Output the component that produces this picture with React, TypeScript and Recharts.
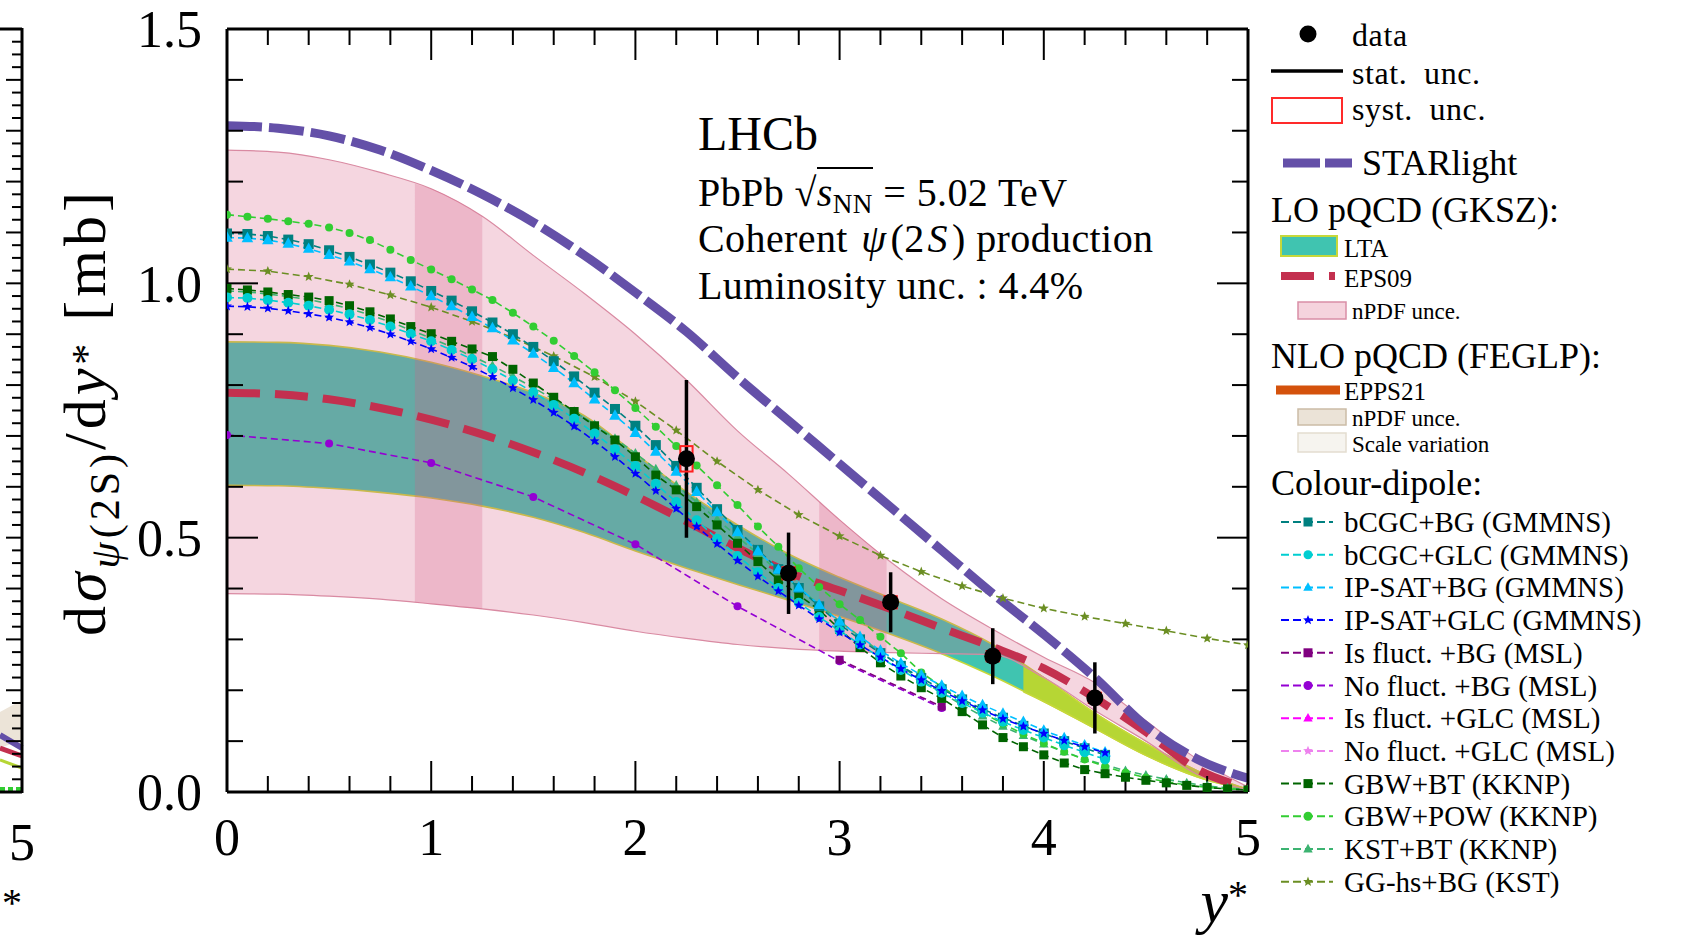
import React from 'react'
import { ComposedChart, Line, Area, Scatter, XAxis, YAxis, ErrorBar } from 'recharts'

const W = 1690
const H = 939
const MARGIN = { top: 29, right: 442, bottom: 87, left: 127 }
const PLOT_W = 1021
const PLOT_H = 763
const FONT = '"Liberation Serif", "Times New Roman", serif'

// axis ticks
const X_LABEL_TICKS = [0, 1, 2, 3, 4, 5]
const X_MINOR_TICKS = [0.2, 0.4, 0.6, 0.8, 1.2, 1.4, 1.6, 1.8, 2.2, 2.4, 2.6, 2.8, 3.2, 3.4, 3.6, 3.8, 4.2, 4.4, 4.6, 4.8]
const Y_LABEL_TICKS = [0, 0.5, 1, 1.5]
const Y_MINOR_TICKS = [0.1, 0.2, 0.3, 0.4, 0.6, 0.7, 0.8, 0.9, 1.1, 1.2, 1.3, 1.4]

// y* grids used by the different predictions
const GRID_Q = [0, 0.25, 0.5, 0.75, 1, 1.25, 1.5, 1.75, 2, 2.25, 2.5, 2.75, 3, 3.25, 3.5, 3.75, 4, 4.25, 4.5, 4.75, 5]
const GRID_43 = [0, 0.1, 0.2, 0.3, 0.4, 0.5, 0.6, 0.7, 0.8, 0.9, 1, 1.1, 1.2, 1.3, 1.4, 1.5, 1.6, 1.7, 1.8, 1.9, 2, 2.1, 2.2, 2.3, 2.4, 2.5, 2.6, 2.7, 2.8, 2.9, 3, 3.1, 3.2, 3.3, 3.4, 3.5, 3.6, 3.7, 3.8, 3.9, 4, 4.1, 4.2, 4.3]
const GRID_50 = [0, 0.1, 0.2, 0.3, 0.4, 0.5, 0.6, 0.7, 0.8, 0.9, 1, 1.1, 1.2, 1.3, 1.4, 1.5, 1.6, 1.7, 1.8, 1.9, 2, 2.1, 2.2, 2.3, 2.4, 2.5, 2.6, 2.7, 2.8, 2.9, 3, 3.1, 3.2, 3.3, 3.4, 3.5, 3.6, 3.7, 3.8, 3.9, 4, 4.1, 4.2, 4.3, 4.4, 4.5, 4.6, 4.7, 4.8, 4.9, 5]
const GRID_20 = [0, 0.2, 0.4, 0.6, 0.8, 1, 1.2, 1.4, 1.6, 1.8, 2, 2.2, 2.4, 2.6, 2.8, 3, 3.2, 3.4, 3.6, 3.8, 4, 4.2, 4.4, 4.6, 4.8, 5]
const GRID_MSL = [0, 0.5, 1, 1.5, 2, 2.5, 3, 3.5]
const GRID_IS_FLUCT = [3, 3.5]

// LHCb data
const dataY = [2.25, 2.75, 3.25, 3.75, 4.25]
const dataSigma = [0.655, 0.43, 0.373, 0.267, 0.185]
const dataStat = [0.155, 0.08, 0.059, 0.055, 0.07]
const dataSyst = [0.025, 0.012, 0.012, 0.01, 0.01]

// STARlight
const starlight = [1.31, 1.305, 1.29, 1.262, 1.222, 1.175, 1.12, 1.055, 0.982, 0.905, 0.815, 0.73, 0.645, 0.56, 0.475, 0.39, 0.31, 0.225, 0.13, 0.065, 0.027]

// LO pQCD (GKSZ)
const ltaLow = [0.603, 0.602, 0.597, 0.589, 0.578, 0.562, 0.54, 0.51, 0.474, 0.44, 0.408, 0.377, 0.345, 0.31, 0.272, 0.228, 0.178, 0.125, 0.072, 0.03, 0.003]
const ltaHigh = [0.885, 0.884, 0.878, 0.865, 0.845, 0.818, 0.785, 0.74, 0.665, 0.59, 0.525, 0.468, 0.422, 0.381, 0.34, 0.29, 0.225, 0.155, 0.095, 0.042, 0.005]
const ltaTailY = [3.9, 4, 4.25, 4.5, 4.75, 5]
const ltaTailLow = [0.197, 0.178, 0.125, 0.072, 0.03, 0.003]
const ltaTailHigh = [0.25, 0.225, 0.155, 0.095, 0.042, 0.005]
const eps09 = [0.785, 0.782, 0.772, 0.755, 0.732, 0.703, 0.668, 0.628, 0.582, 0.532, 0.48, 0.432, 0.396, 0.36, 0.322, 0.285, 0.243, 0.185, 0.118, 0.045, 0.008]
const nPdfLow = [0.39, 0.389, 0.385, 0.379, 0.37, 0.36, 0.348, 0.333, 0.316, 0.302, 0.29, 0.282, 0.277, 0.274, 0.272, 0.27, 0.225, 0.16, 0.1, 0.035, 0.004]
const nPdfHigh = [1.262, 1.258, 1.243, 1.218, 1.186, 1.132, 1.055, 0.98, 0.9, 0.81, 0.71, 0.625, 0.535, 0.452, 0.38, 0.32, 0.265, 0.215, 0.14, 0.065, 0.01]
// overlapping (darker) slices of the nPDF band
const nPdfSliceAY = [0.92, 1, 1.25]
const nPdfSliceALow = [0.373, 0.37, 0.36]
const nPdfSliceAHigh = [1.196, 1.186, 1.132]
const nPdfSliceBY = [2.9, 3, 3.23]
const nPdfSliceBLow = [0.279, 0.277, 0.275]
const nPdfSliceBHigh = [0.57, 0.535, 0.459]

// Colour-dipole predictions
const bcgcBg = [1.098, 1.097, 1.093, 1.086, 1.077, 1.065, 1.052, 1.037, 1.021, 1.004,
  0.985, 0.966, 0.945, 0.923, 0.9, 0.875, 0.847, 0.817, 0.785, 0.753,
  0.72, 0.682, 0.641, 0.598, 0.556, 0.515, 0.476, 0.438, 0.401, 0.365,
  0.33, 0.3, 0.273, 0.248, 0.224, 0.202, 0.182, 0.163, 0.146, 0.13,
  0.115, 0.1, 0.086, 0.073]
const bcgcGlc = [0.972, 0.971, 0.967, 0.962, 0.956, 0.948, 0.939, 0.928, 0.915, 0.901,
  0.886, 0.869, 0.851, 0.831, 0.809, 0.786, 0.761, 0.734, 0.705, 0.674,
  0.641, 0.606, 0.57, 0.534, 0.498, 0.464, 0.432, 0.401, 0.372, 0.344,
  0.317, 0.29, 0.264, 0.24, 0.217, 0.195, 0.175, 0.156, 0.138, 0.122,
  0.107, 0.092, 0.078, 0.064]
const ipsatBg = [1.09, 1.089, 1.085, 1.078, 1.068, 1.056, 1.043, 1.028, 1.012, 0.994,
  0.975, 0.955, 0.934, 0.912, 0.888, 0.862, 0.834, 0.804, 0.772, 0.74,
  0.706, 0.669, 0.63, 0.59, 0.55, 0.511, 0.473, 0.437, 0.402, 0.368,
  0.335, 0.305, 0.278, 0.253, 0.23, 0.209, 0.189, 0.171, 0.154, 0.138,
  0.121, 0.106, 0.092, 0.078]
const ipsatGlc = [0.955, 0.954, 0.951, 0.946, 0.94, 0.933, 0.924, 0.913, 0.9, 0.886,
  0.871, 0.854, 0.836, 0.816, 0.794, 0.771, 0.746, 0.719, 0.69, 0.659,
  0.626, 0.592, 0.557, 0.522, 0.488, 0.455, 0.424, 0.395, 0.367, 0.34,
  0.314, 0.289, 0.265, 0.242, 0.22, 0.199, 0.179, 0.161, 0.144, 0.129,
  0.115, 0.101, 0.089, 0.077]
const isFluctBg = [0.26, 0.168]
const noFluctBg = [0.702, 0.685, 0.647, 0.58, 0.487, 0.365, 0.257, 0.165]
const gbwBt = [0.99, 0.987, 0.983, 0.978, 0.973, 0.966, 0.956, 0.944, 0.93, 0.915,
  0.901, 0.886, 0.871, 0.856, 0.831, 0.804, 0.776, 0.748, 0.72, 0.692,
  0.659, 0.623, 0.594, 0.561, 0.525, 0.489, 0.453, 0.417, 0.387, 0.358,
  0.32, 0.284, 0.254, 0.228, 0.205, 0.184, 0.158, 0.132, 0.107, 0.089,
  0.073, 0.057, 0.044, 0.036, 0.029, 0.023, 0.018, 0.013, 0.009, 0.006, 0.004]
const gbwPow = [1.135, 1.131, 1.127, 1.122, 1.117, 1.11, 1.099, 1.085, 1.066, 1.046,
  1.027, 1.008, 0.988, 0.967, 0.942, 0.915, 0.887, 0.857, 0.825, 0.79,
  0.755, 0.718, 0.68, 0.642, 0.603, 0.564, 0.522, 0.482, 0.44, 0.403,
  0.369, 0.338, 0.305, 0.273, 0.235, 0.207, 0.18, 0.156, 0.134, 0.114,
  0.096, 0.079, 0.064, 0.05, 0.038, 0.028, 0.02, 0.014, 0.009, 0.006, 0.004]
const kstBt = [0.985, 0.983, 0.979, 0.974, 0.968, 0.96, 0.95, 0.938, 0.924, 0.908,
  0.892, 0.875, 0.857, 0.838, 0.817, 0.795, 0.772, 0.748, 0.722, 0.695,
  0.666, 0.635, 0.603, 0.57, 0.536, 0.502, 0.468, 0.434, 0.401, 0.368,
  0.336, 0.305, 0.275, 0.247, 0.22, 0.195, 0.171, 0.149, 0.129, 0.111,
  0.094, 0.079, 0.065, 0.053, 0.042, 0.033, 0.025, 0.018, 0.012, 0.008, 0.005]
const ggHsBg = [1.028, 1.024, 1.013, 0.998, 0.977, 0.953, 0.925, 0.893, 0.857, 0.816,
  0.768, 0.711, 0.65, 0.594, 0.545, 0.503, 0.465, 0.433, 0.405, 0.381,
  0.361, 0.345, 0.331, 0.317, 0.302, 0.289]

const DIPOLE_MODELS = [
  { name: 'bCGC+BG (GMMNS)', color: '#008080', shape: 'square' },
  { name: 'bCGC+GLC (GMMNS)', color: '#00ced1', shape: 'circle' },
  { name: 'IP-SAT+BG (GMMNS)', color: '#00bfff', shape: 'triangle' },
  { name: 'IP-SAT+GLC (GMMNS)', color: '#0000ff', shape: 'star' },
  { name: 'Is fluct. +BG (MSL)', color: '#800080', shape: 'square' },
  { name: 'No fluct. +BG (MSL)', color: '#9400d3', shape: 'circle' },
  { name: 'Is fluct. +GLC (MSL)', color: '#ff00ff', shape: 'triangle' },
  { name: 'No fluct. +GLC (MSL)', color: '#ee82ee', shape: 'star' },
  { name: 'GBW+BT (KKNP)', color: '#006400', shape: 'square' },
  { name: 'GBW+POW (KKNP)', color: '#32cd32', shape: 'circle' },
  { name: 'KST+BT (KKNP)', color: '#3cb371', shape: 'triangle' },
  { name: 'GG-hs+BG (KST)', color: '#6b8e23', shape: 'star' },
]

const STAR_COLOR = '#6450a8'
const EPS_COLOR = '#c3304f'
const LTA_FILL = '#40c4b0'
const LTA_EDGE = '#c6d83a'
const LTA_TAIL = '#b6d634'
const PINK = 'rgb(214,90,130)'

const toPoints = (xs: number[], ys: number[]) => xs.map((x, i) => ({ x, y: ys[i] }))
const toBand = (xs: number[], lo: number[], hi: number[]) => xs.map((x, i) => ({ x, band: [lo[i], hi[i]] }))

const dataPoints = dataY.map((x, i) => ({ x, y: dataSigma[i], stat: dataStat[i], syst: dataSyst[i] }))

// order in which the dipole curves are drawn (bottom first)
const DIPOLE_SERIES = [
  { model: 11, xs: GRID_20, ys: ggHsBg, size: 9 },
  { model: 5, xs: GRID_MSL, ys: noFluctBg, size: 8 },
  { model: 4, xs: GRID_IS_FLUCT, ys: isFluctBg, size: 8 },
  { model: 10, xs: GRID_50, ys: kstBt, size: 9 },
  { model: 9, xs: GRID_50, ys: gbwPow, size: 8 },
  { model: 8, xs: GRID_50, ys: gbwBt, size: 9 },
  { model: 0, xs: GRID_43, ys: bcgcBg, size: 10 },
  { model: 1, xs: GRID_43, ys: bcgcGlc, size: 10 },
  { model: 2, xs: GRID_43, ys: ipsatBg, size: 11 },
  { model: 3, xs: GRID_43, ys: ipsatGlc, size: 9 },
]

function Marker({ shape, cx, cy, size, color }: { shape: string; cx: number; cy: number; size: number; color: string }) {
  const r = size / 2
  if (shape === 'square') return <rect x={cx - r} y={cy - r} width={size} height={size} fill={color} />
  if (shape === 'circle') return <circle cx={cx} cy={cy} r={r} fill={color} />
  if (shape === 'triangle') {
    return <path d={`M${cx},${cy - r * 1.15}L${cx + r * 1.05},${cy + r * 0.75}L${cx - r * 1.05},${cy + r * 0.75}Z`} fill={color} />
  }
  let d = ''
  for (let k = 0; k < 10; k++) {
    const rr = k % 2 === 0 ? r * 1.15 : r * 0.5
    const a = -Math.PI / 2 + (k * Math.PI) / 5
    d += `${k === 0 ? 'M' : 'L'}${cx + rr * Math.cos(a)},${cy + rr * Math.sin(a)}`
  }
  return <path d={d + 'Z'} fill={color} />
}

const tickLine = { stroke: '#000', strokeWidth: 2 }
const frameLine = { stroke: '#000', strokeWidth: 3 }
const labelTick = { fill: '#000', fontSize: 52, fontFamily: FONT }
const blank = () => ''

function DipoleLegend() {
  return (
    <g>
      {DIPOLE_MODELS.map((m, i) => {
        const y = 522 + i * 32.7
        return (
          <g key={m.name}>
            <line x1={1281} x2={1333} y1={y} y2={y} stroke={m.color} strokeWidth={2} strokeDasharray="8 4" />
            <Marker shape={m.shape} cx={1308} cy={y} size={9} color={m.color} />
            <text x={1344} y={y + 10} fontSize={29}>{m.name}</text>
          </g>
        )
      })}
    </g>
  )
}

function LeftRemnant() {
  const ticks = []
  for (let i = 1; i < 60; i++) {
    const y = 792 - (i * PLOT_H) / 60
    ticks.push(<line key={i} x1={22} x2={i % 4 === 0 ? 6 : 12} y1={y} y2={y} stroke="#000" strokeWidth={2} />)
  }
  return (
    <g>
      <polygon points="0,712 22,700 22,740 0,748" fill="#ece4d8" />
      <line x1={0} y1={735} x2={22} y2={748} stroke={STAR_COLOR} strokeWidth={6} />
      <line x1={0} y1={748} x2={22} y2={756} stroke={EPS_COLOR} strokeWidth={5} />
      <line x1={0} y1={760} x2={22} y2={768} stroke={LTA_TAIL} strokeWidth={3} />
      <line x1={0} y1={789} x2={22} y2={789} stroke="#32cd32" strokeWidth={4} strokeDasharray="5 3" />
      {ticks}
      <line x1={0} x2={22} y1={29} y2={29} stroke="#000" strokeWidth={3} />
      <line x1={0} x2={22} y1={792} y2={792} stroke="#000" strokeWidth={3} />
      <line x1={22} x2={22} y1={28} y2={793} stroke="#000" strokeWidth={3} />
      <text x={22} y={860} fontSize={52} textAnchor="middle">5</text>
      <text x={12} y={916} fontSize={40} textAnchor="middle">*</text>
    </g>
  )
}

const annotLine = { position: 'absolute' as const, left: 698, fontSize: 40, lineHeight: 0.9, whiteSpace: 'nowrap' as const, letterSpacing: 0.4 }
const italicSym = { display: 'inline-block', margin: '0 4px 0 3px' }

export default function App() {
  return (
    <div style={{ position: 'relative', width: W, height: H, background: '#fff', fontFamily: FONT }}>
      <style>{'body{margin:0}'}</style>
      <ComposedChart width={W} height={H} margin={MARGIN}>
        <XAxis xAxisId={0} dataKey="x" type="number" domain={[0, 5]} allowDataOverflow ticks={X_LABEL_TICKS} interval={0}
          height={60} tickSize={0} tickMargin={26} axisLine={false} tickLine={false} tick={labelTick} />
        <XAxis xAxisId="bmaj" dataKey="x" type="number" domain={[0, 5]} allowDataOverflow ticks={X_LABEL_TICKS} interval={0} orientation="bottom" mirror
          height={1} tickSize={31} tickLine={tickLine} axisLine={frameLine} tickFormatter={blank} />
        <XAxis xAxisId="bmin" dataKey="x" type="number" domain={[0, 5]} allowDataOverflow ticks={X_MINOR_TICKS} interval={0} orientation="bottom" mirror
          height={1} tickSize={15} tickLine={tickLine} axisLine={false} tickFormatter={blank} />
        <XAxis xAxisId="tmaj" dataKey="x" type="number" domain={[0, 5]} allowDataOverflow ticks={X_LABEL_TICKS} interval={0} orientation="top" mirror
          height={1} tickSize={31} tickLine={tickLine} axisLine={frameLine} tickFormatter={blank} />
        <XAxis xAxisId="tmin" dataKey="x" type="number" domain={[0, 5]} allowDataOverflow ticks={X_MINOR_TICKS} interval={0} orientation="top" mirror
          height={1} tickSize={15} tickLine={tickLine} axisLine={false} tickFormatter={blank} />
        <YAxis yAxisId={0} type="number" domain={[0, 1.5]} allowDataOverflow ticks={Y_LABEL_TICKS} interval={0} width={100}
          tickSize={0} tickMargin={25} axisLine={false} tickLine={false} tick={labelTick} tickFormatter={(v: number) => v.toFixed(1)} />
        <YAxis yAxisId="lmaj" type="number" domain={[0, 1.5]} allowDataOverflow ticks={Y_LABEL_TICKS} interval={0} orientation="left" mirror width={1}
          tickSize={31} tickLine={tickLine} axisLine={frameLine} tickFormatter={blank} />
        <YAxis yAxisId="lmin" type="number" domain={[0, 1.5]} allowDataOverflow ticks={Y_MINOR_TICKS} interval={0} orientation="left" mirror width={1}
          tickSize={15} tickLine={tickLine} axisLine={false} tickFormatter={blank} />
        <YAxis yAxisId="rmaj" type="number" domain={[0, 1.5]} allowDataOverflow ticks={Y_LABEL_TICKS} interval={0} orientation="right" mirror width={1}
          tickSize={31} tickLine={tickLine} axisLine={frameLine} tickFormatter={blank} />
        <YAxis yAxisId="rmin" type="number" domain={[0, 1.5]} allowDataOverflow ticks={Y_MINOR_TICKS} interval={0} orientation="right" mirror width={1}
          tickSize={15} tickLine={tickLine} axisLine={false} tickFormatter={blank} />

        {/* LO pQCD bands */}
        <Area data={toBand(GRID_Q, ltaLow, ltaHigh)} dataKey="band" type="monotone" fill={LTA_FILL} fillOpacity={1}
          stroke={LTA_EDGE} strokeWidth={1.6} isAnimationActive={false} />
        <Area data={toBand(ltaTailY, ltaTailLow, ltaTailHigh)} dataKey="band" type="monotone" fill={LTA_TAIL} fillOpacity={1}
          stroke={LTA_EDGE} strokeWidth={1.6} isAnimationActive={false} />
        <Area data={toBand(GRID_Q, nPdfLow, nPdfHigh)} dataKey="band" type="monotone" fill={PINK} fillOpacity={0.25}
          stroke="#d98aa2" strokeWidth={1.2} isAnimationActive={false} />
        <Area data={toBand(nPdfSliceAY, nPdfSliceALow, nPdfSliceAHigh)} dataKey="band" type="monotone" fill={PINK} fillOpacity={0.25}
          stroke="none" isAnimationActive={false} />
        <Area data={toBand(nPdfSliceBY, nPdfSliceBLow, nPdfSliceBHigh)} dataKey="band" type="monotone" fill={PINK} fillOpacity={0.25}
          stroke="none" isAnimationActive={false} />
        <Line data={toPoints(GRID_Q, eps09)} dataKey="y" type="monotone" stroke={EPS_COLOR} strokeWidth={8}
          strokeDasharray="33 15" dot={false} activeDot={false} isAnimationActive={false} />

        {DIPOLE_SERIES.map((s) => {
          const m = DIPOLE_MODELS[s.model]
          return (
            <Line key={m.name} data={toPoints(s.xs, s.ys)} dataKey="y" type="linear" stroke={m.color} strokeWidth={1.6}
              strokeDasharray="7 4" activeDot={false} isAnimationActive={false}
              dot={(p: any) => <Marker key={`${m.name}-${p.index}`} shape={m.shape} cx={p.cx} cy={p.cy} size={s.size} color={m.color} />} />
          )
        })}

        <Line data={toPoints(GRID_Q, starlight)} dataKey="y" type="monotone" stroke={STAR_COLOR} strokeWidth={9}
          strokeDasharray="35 7" dot={false} activeDot={false} isAnimationActive={false} />

        <Scatter data={dataPoints} dataKey="y" isAnimationActive={false}
          shape={(p: any) => (
            <rect x={p.cx - (0.03 * PLOT_W) / 5} y={p.cy - (p.payload.syst * PLOT_H) / 1.5}
              width={(0.06 * PLOT_W) / 5} height={(2 * p.payload.syst * PLOT_H) / 1.5}
              fill="none" stroke="#ff2020" strokeWidth={2} />
          )} />
        <Scatter data={dataPoints} dataKey="y" isAnimationActive={false}
          shape={(p: any) => <circle cx={p.cx} cy={p.cy} r={8.5} fill="#000" />}>
          <ErrorBar dataKey="stat" direction="y" width={0} stroke="#000" strokeWidth={3.5} />
        </Scatter>
      </ComposedChart>

      <svg width={W} height={H} style={{ position: 'absolute', left: 0, top: 0, pointerEvents: 'none' }} fontFamily={FONT}>
        <LeftRemnant />
        {/* axis titles */}
        <text transform="translate(105,412) rotate(-90)" textAnchor="middle" fontSize={60} letterSpacing={4}>
          d<tspan fontStyle="italic">σ</tspan>
          <tspan fontSize={42} dy={14} fontStyle="italic">ψ</tspan>
          <tspan fontSize={42}>(2S)</tspan>
          <tspan dy={-14}>/d</tspan>
          <tspan fontStyle="italic">y</tspan>
          <tspan fontSize={42} dy={-4}>*</tspan>
          <tspan dy={4}> [mb]</tspan>
        </text>
        <text x={1248} y={922} textAnchor="end" fontSize={62}>
          <tspan fontStyle="italic">y</tspan>
          <tspan fontSize={40} dy={-14}>*</tspan>
        </text>

        {/* legend */}
        <g fill="#000">
          <circle cx={1308} cy={34} r={8.5} />
          <text x={1352} y={46} fontSize={32} letterSpacing={0.6}>data</text>
          <line x1={1271} x2={1343} y1={71} y2={71} stroke="#000" strokeWidth={3.5} />
          <text x={1352} y={84} fontSize={32} letterSpacing={0.6} wordSpacing={8}>stat. unc.</text>
          <rect x={1272} y={98} width={70} height={25} fill="#fff" stroke="#ff2a2a" strokeWidth={2} />
          <text x={1352} y={120} fontSize={32} letterSpacing={0.6} wordSpacing={8}>syst. unc.</text>
          <line x1={1283} x2={1352} y1={163} y2={163} stroke={STAR_COLOR} strokeWidth={9} strokeDasharray="37 5" />
          <text x={1362} y={175} fontSize={36}>STARlight</text>
          <text x={1271} y={222} fontSize={36}>LO pQCD (GKSZ):</text>
          <rect x={1281} y={236} width={56} height={20} fill={LTA_FILL} stroke={LTA_EDGE} strokeWidth={2} />
          <text x={1344} y={257} fontSize={25}>LTA</text>
          <line x1={1281} x2={1336} y1={276} y2={276} stroke={EPS_COLOR} strokeWidth={8} strokeDasharray="33 15 6 100" />
          <text x={1344} y={287} fontSize={25}>EPS09</text>
          <rect x={1298} y={302} width={48} height={17} fill="#f5d3dd" stroke="#d98ea6" strokeWidth={1.5} />
          <text x={1352} y={319} fontSize={23}>nPDF unce.</text>
          <text x={1271} y={368} fontSize={36}>NLO pQCD (FEGLP):</text>
          <line x1={1276} x2={1340} y1={390} y2={390} stroke="#d4520c" strokeWidth={9} />
          <text x={1344} y={400} fontSize={25}>EPPS21</text>
          <rect x={1298} y={409} width={48} height={16} fill="#ebe3d7" stroke="#cbbca6" strokeWidth={1.5} />
          <text x={1352} y={426} fontSize={23}>nPDF unce.</text>
          <rect x={1298} y={433} width={48} height={19} fill="#f6f4ef" stroke="#e3ddd0" strokeWidth={1.5} />
          <text x={1352} y={452} fontSize={23}>Scale variation</text>
          <text x={1271} y={495} fontSize={36}>Colour-dipole:</text>
          <DipoleLegend />
        </g>
      </svg>

      {/* experiment annotation */}
      <div style={{ position: 'absolute', left: 698, top: 112, fontSize: 48, lineHeight: 0.9, whiteSpace: 'nowrap' }}>LHCb</div>
      <div style={{ ...annotLine, top: 175 }}>
        PbPb √<span style={{ borderTop: '2px solid #000', paddingTop: 1 }}><i>s</i><span style={{ fontSize: '0.68em', position: 'relative', top: '0.25em' }}>NN</span></span> = 5.02 TeV
      </div>
      <div style={{ ...annotLine, top: 221 }}>
        Coherent <i style={italicSym}>ψ</i>(2<i style={italicSym}>S</i>) production
      </div>
      <div style={{ ...annotLine, top: 268 }}>
        Luminosity unc. : 4.4%
      </div>
    </div>
  )
}
